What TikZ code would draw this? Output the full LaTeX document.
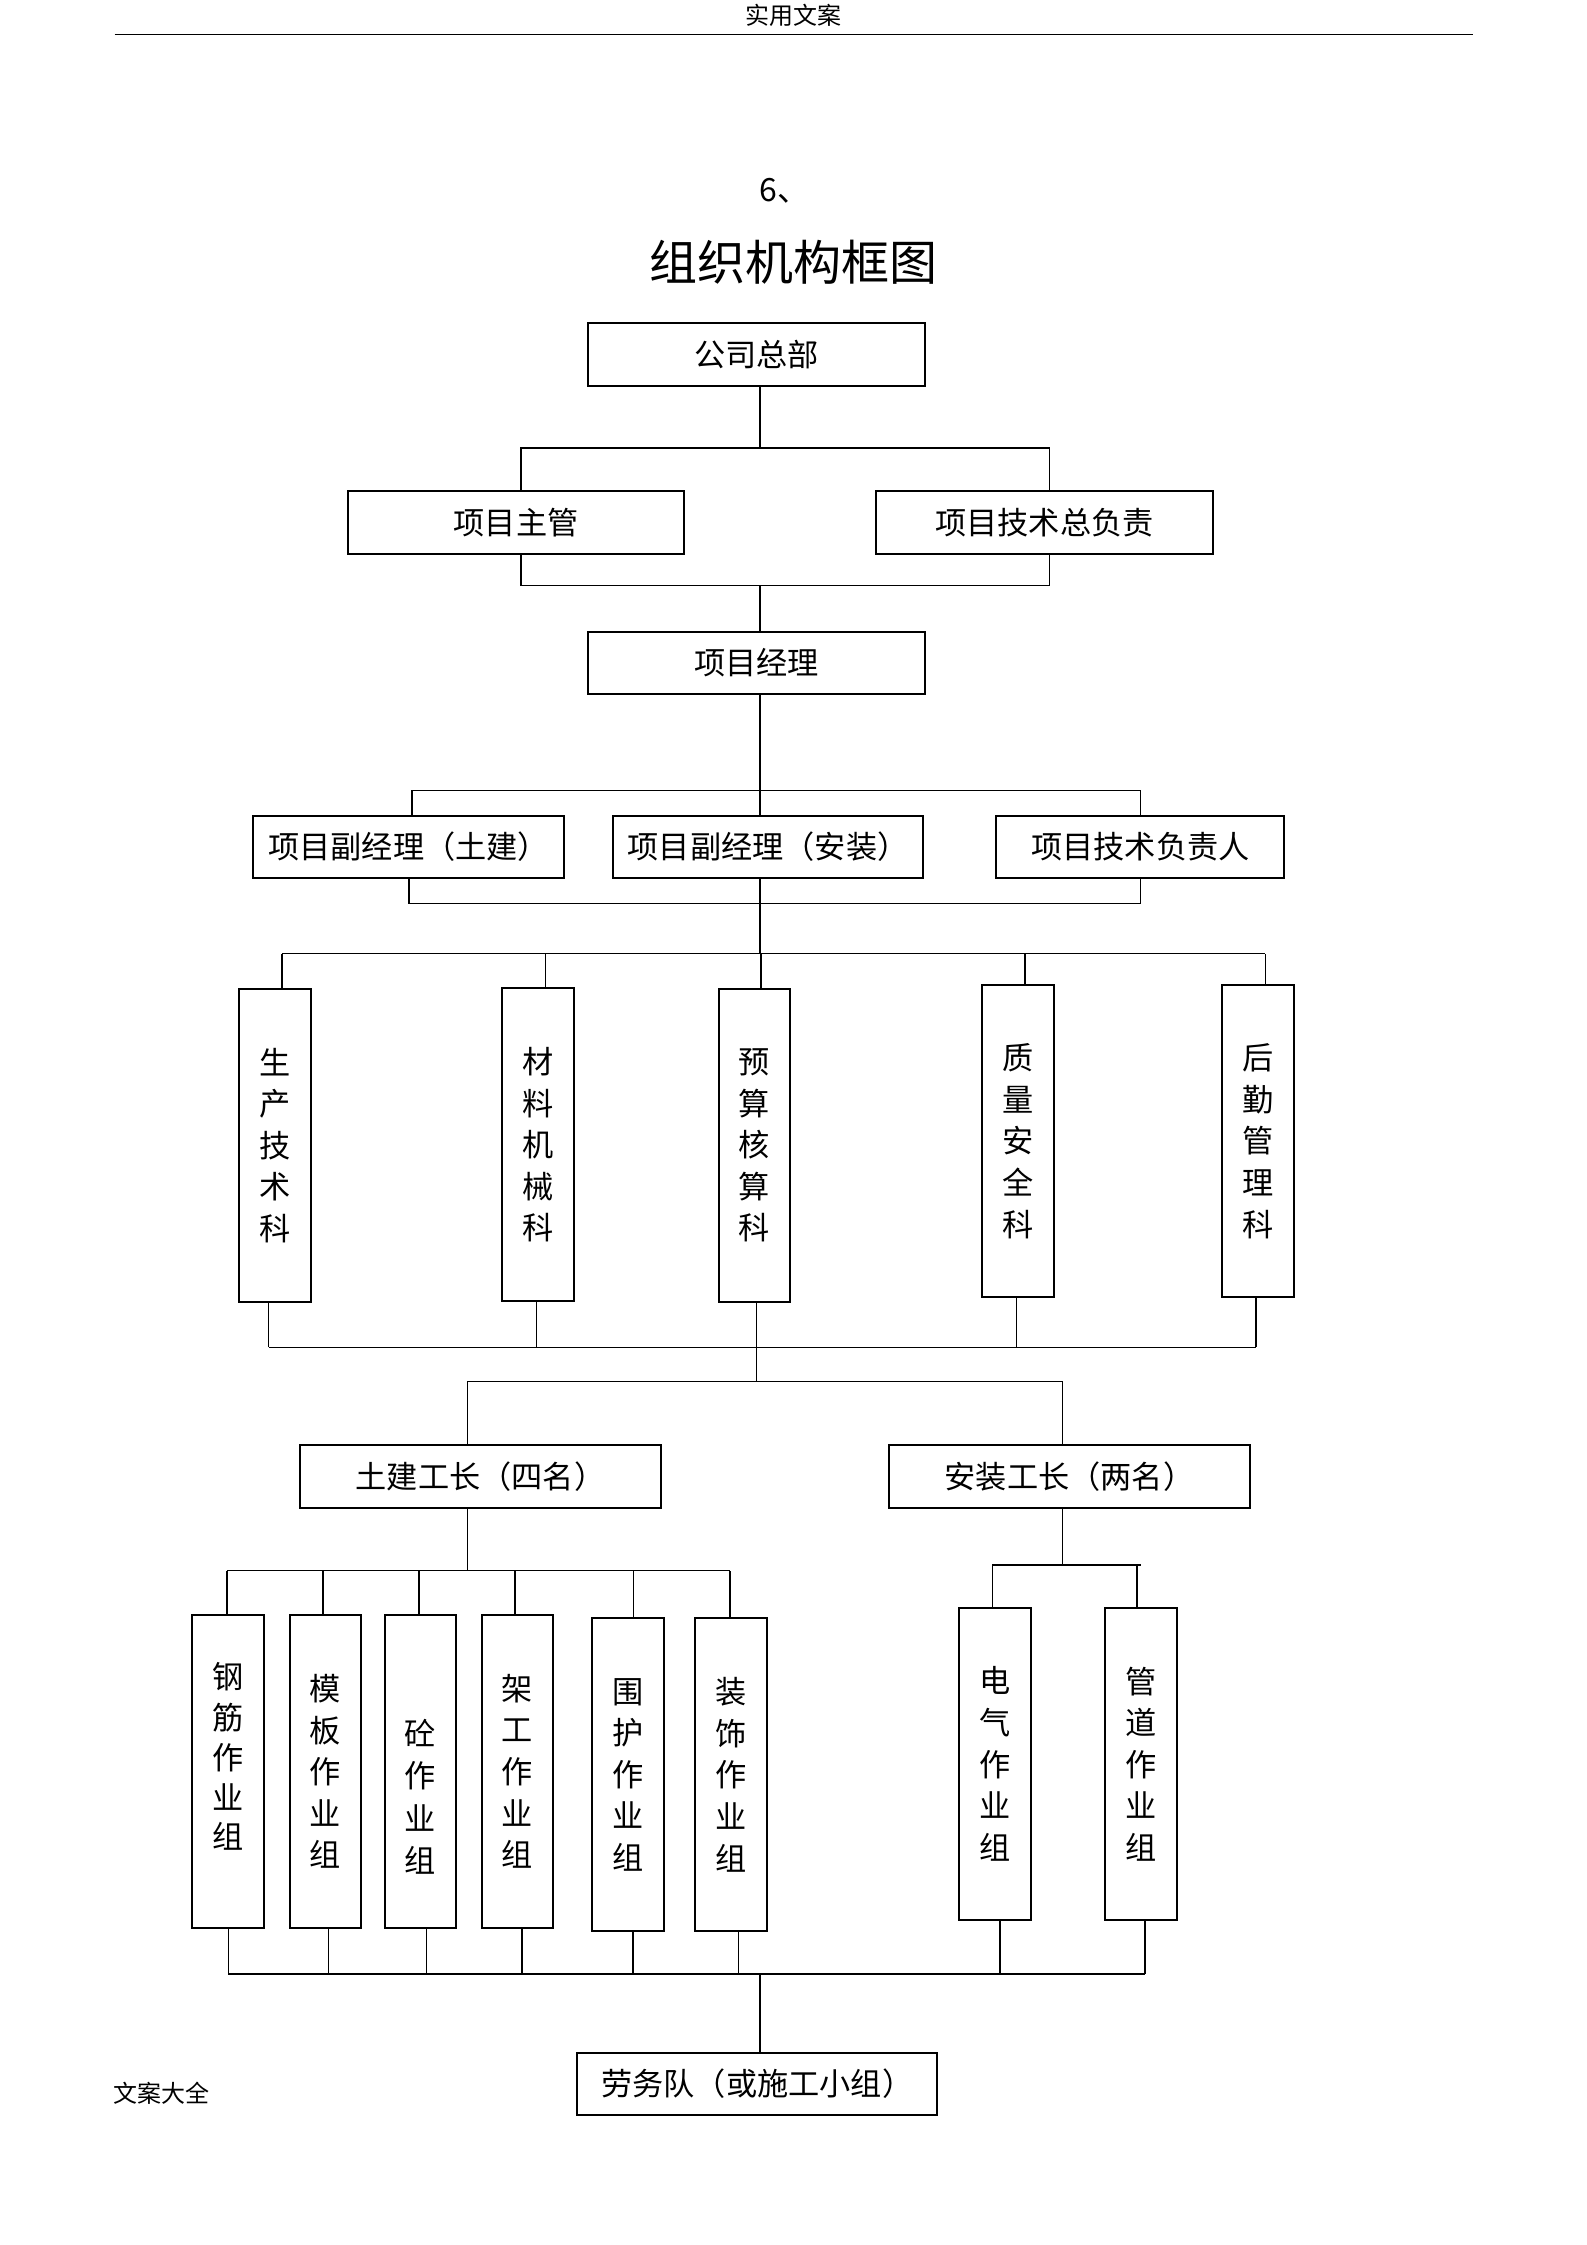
\documentclass[tikz,border=0pt]{standalone}
\usepackage{fontspec}
\setmainfont{Noto Sans CJK SC}
\usepackage{tikz}

\begin{document}
\begin{tikzpicture}[x=0.5371pt,y=-0.5371pt,
  box/.style={draw,line width=0.75pt,inner sep=0pt,align=center,font=\fontsize{11.7}{14}\selectfont},
  wide/.style={box,minimum width=126.2pt,minimum height=23.5pt},
  tall/.style={box,minimum width=26.9pt,minimum height=117.2pt,font=\fontsize{11.7}{15.6}\selectfont},
  link/.style={line width=0.6pt}]
\useasboundingbox (0,0) rectangle (1108,1568);

% page head and title
\node (head) at (554,11) {\fontsize{9}{10}\selectfont 实用文案};
\draw[line width=0.6pt] (80,24) -- (1029,24);
\node (num) at (548,133) {\fontsize{12}{14}\selectfont 6、};
\node (title) at (554,183) {\fontsize{18}{20}\selectfont 组织机构框图};
\node (foot) at (113,1462) {\fontsize{9}{10}\selectfont 文案大全};

% upper boxes
\node[wide] (hq) at (528.5,247.5) {公司总部};
\node[wide] (mgr) at (360.5,365) {项目主管};
\node[wide] (chief) at (729.5,365) {项目技术总负责};
\node[wide] (pm) at (528.5,463) {项目经理};
\node[box,minimum width=116.5pt,minimum height=23.3pt] (dep1) at (285.5,591.5) {项目副经理（土建）};
\node[box,minimum width=116.5pt,minimum height=23.3pt] (dep2) at (536.5,591.5) {项目副经理（安装）};
\node[box,minimum width=108pt,minimum height=23.3pt] (tech) at (796.5,591.5) {项目技术负责人};

% sections
\node[tall] (sec1) at (192,800) {生\\产\\技\\术\\科};
\node[tall] (sec2) at (376,799.5) {材\\料\\机\\械\\科};
\node[tall] (sec3) at (527,800) {预\\算\\核\\算\\科};
\node[tall] (sec4) at (711,797) {质\\量\\安\\全\\科};
\node[tall] (sec5) at (878.5,797) {后\\勤\\管\\理\\科};

% foremen
\node[box,minimum width=135.3pt,minimum height=23.6pt] (civ) at (335.6,1031) {土建工长（四名）};
\node[box,minimum width=135.3pt,minimum height=23.6pt] (ins) at (747,1031) {安装工长（两名）};

% work groups
\node[tall] (wg1) at (159,1237.2) {\raisebox{5.6pt}[\height][\depth]{\shortstack{钢\\[1.4pt]筋\\[1.4pt]作\\[1.4pt]业\\[1.4pt]组}}};
\node[tall] (wg2) at (227.4,1237.2) {模\\板\\作\\业\\组};
\node[tall] (wg3) at (293.6,1237.2) {\raisebox{-9.5pt}[\height][\depth]{\shortstack{砼\\[2.6pt]作\\[2.6pt]业\\[2.6pt]组}}};
\node[tall] (wg4) at (361.5,1237.2) {架\\工\\作\\业\\组};
\node[tall] (wg5) at (438.5,1239.5) {围\\护\\作\\业\\组};
\node[tall] (wg6) at (510.5,1239.5) {装\\饰\\作\\业\\组};
\node[tall] (el) at (695.1,1232) {电\\气\\作\\业\\组};
\node[tall] (pi) at (796.9,1232) {管\\道\\作\\业\\组};

\node[box,minimum width=135.1pt,minimum height=23pt] (lab) at (528.9,1455.5) {劳务队（或施工小组）};

% connectors
\coordinate (trunk) at (531,0);
\coordinate (busA) at (0,313);
\coordinate (busB) at (0,409);
\coordinate (busC) at (0,552);
\coordinate (busD) at (0,631);
\coordinate (busE) at (0,666);
\coordinate (busF) at (0,941);
\coordinate (busG) at (0,965);
\coordinate (busH) at (0,1097);
\coordinate (busI) at (0,1093);
\coordinate (busJ) at (0,1378.6);
\coordinate (civx) at (326.5,0);
\coordinate (insx) at (742,0);

\draw[link] (trunk |- hq.south) -- (trunk |- busA);
\draw[link] ([xshift=1.9pt]mgr.north) |- (busA -| chief.north) -- ++(1.9pt,0) -- ([xshift=1.9pt]chief.north);
\draw[link] ([xshift=1.9pt]mgr.south) |- (busB -| chief.south) -- ++(1.9pt,0) -- ([xshift=1.9pt]chief.south);
\draw[link] (trunk |- pm.north) -- (trunk |- busB);
\draw[link] (trunk |- pm.south) -- (trunk |- dep2.north);
\draw[link] ([xshift=1.3pt]dep1.north) |- (busC -| tech.north) -- (tech.north);
\draw[link] (dep1.south) |- (busD -| tech.south) -- (tech.south);
\draw[link] (trunk |- dep2.south) -- (trunk |- busE);
\draw[link] ([xshift=2.7pt]sec1.north |- busE) -- ([xshift=2.7pt]sec5.north |- busE);
\foreach \n/\d in {sec1/5,sec2/5,sec3/4.7,sec4/5,sec5/5.3}
  \draw[link] ([xshift=\d*0.5371pt]\n.north) -- ([xshift=\d*0.5371pt]\n.north |- busE);
\foreach \n/\d in {sec1/-4.5,sec2/-1.4,sec3/1.4,sec4/-1,sec5/-1.2}
  \draw[link] ([xshift=\d*0.5371pt]\n.south) -- ([xshift=\d*0.5371pt]\n.south |- busF);
\draw[link] ([xshift=-2.4pt]sec1.south |- busF) -- ([xshift=-0.6pt]sec5.south |- busF);
\draw[link] ([xshift=0.75pt]sec3.south |- busF) -- ([xshift=0.75pt]sec3.south |- busG);
\draw[link] (civx |- civ.north) |- (busG -| insx) -- (insx |- ins.north);
\draw[link] (civx |- civ.south) -- (civx |- busH);
\draw[link] ([xshift=-0.3pt]wg1.north |- busH) -- ([xshift=-0.3pt]wg6.north |- busH);
\foreach \n/\d in {wg1/-0.5,wg2/-2,wg3/-1,wg4/-2,wg5/4,wg6/-0.5}
  \draw[link] ([xshift=\d*0.5371pt]\n.north) -- ([xshift=\d*0.5371pt]\n.north |- busH);
\draw[link] (insx |- ins.south) -- (insx |- busI);
\draw[link] ([xshift=-1pt]el.north) |- (busI -| pi.north) -- ++(-1.6pt,0) -- ([xshift=-1.6pt]pi.north);
\foreach \n/\d in {wg1/0.5,wg2/2,wg3/4.3,wg4/3,wg5/3.7,wg6/5.4,el/3.4,pi/2.6}
  \draw[link] ([xshift=\d*0.5371pt]\n.south) -- ([xshift=\d*0.5371pt]\n.south |- busJ);
\draw[link] ([xshift=0.3pt]wg1.south |- busJ) -- ([xshift=1.4pt]pi.south |- busJ);
\draw[link] ([xshift=1pt]lab.north) -- ([xshift=1pt]lab.north |- busJ);
\end{tikzpicture}
\end{document}
